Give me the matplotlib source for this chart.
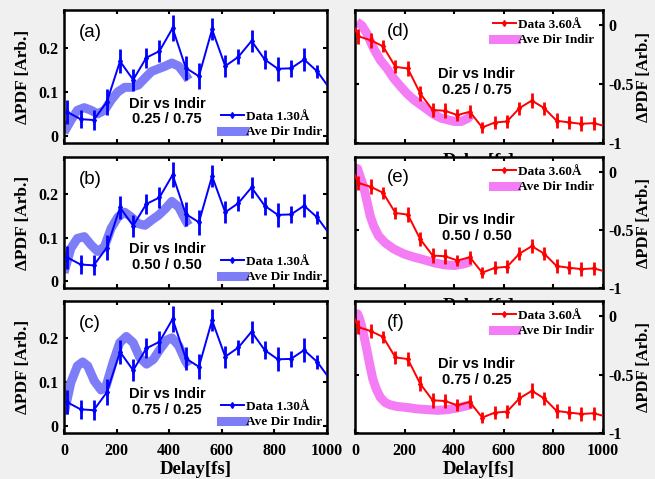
import matplotlib
matplotlib.use("Agg")
import matplotlib.pyplot as plt
from matplotlib.lines import Line2D
import numpy as np

# ---------------- data ----------------
delay = [13, 63, 113, 163, 213, 263, 313, 363, 413, 463, 513, 563, 613,
         663, 713, 763, 813, 863, 913, 963, 1013]
blue_data = [0.054, 0.038, 0.036, 0.077, 0.169, 0.127, 0.177, 0.192, 0.244,
             0.154, 0.135, 0.241, 0.158, 0.179, 0.215, 0.173, 0.152, 0.153,
             0.173, 0.146, 0.105]
blue_err = [0.027, 0.021, 0.023, 0.029, 0.027, 0.025, 0.023, 0.025, 0.029,
            0.027, 0.029, 0.025, 0.025, 0.017, 0.025, 0.021, 0.027, 0.019,
            0.027, 0.015, 0.02]

red_delay = [-37] + delay
red_data = [0.15, -0.093, -0.127, -0.178, -0.353, -0.367, -0.579, -0.72, -0.726,
            -0.763, -0.734, -0.868, -0.826, -0.817, -0.704, -0.639, -0.704,
            -0.811, -0.825, -0.837, -0.831, -0.86]
red_err = [0.05, 0.063, 0.063, 0.05, 0.056, 0.063, 0.063, 0.063, 0.063, 0.05,
           0.056, 0.05, 0.056, 0.056, 0.056, 0.063, 0.056, 0.063, 0.056,
           0.063, 0.056, 0.05]

# averaged direct/indirect model curves (left column: 1.30 A)
ave_a_t = [0, 26, 51, 77, 103, 128, 154, 179, 205, 231, 256, 282, 308, 333,
           359, 385, 410, 436, 462, 474]
ave_a = [0.008, 0.035, 0.058, 0.064, 0.058, 0.050, 0.058, 0.081, 0.100, 0.110,
         0.110, 0.115, 0.131, 0.146, 0.152, 0.158, 0.165, 0.158, 0.138, 0.127]
ave_b_t = [0, 26, 51, 77, 103, 128, 154, 179, 205, 231, 256, 282, 308, 333,
           359, 385, 410, 436, 462, 474]
ave_b = [0.019, 0.075, 0.098, 0.102, 0.083, 0.068, 0.079, 0.121, 0.147, 0.158,
         0.147, 0.132, 0.128, 0.140, 0.151, 0.166, 0.183, 0.170, 0.140, 0.128]
ave_c_t = [0, 26, 51, 71, 90, 115, 141, 160, 186, 212, 237, 263, 288, 314,
           340, 365, 391, 410, 436, 462, 474]
ave_c = [0.027, 0.099, 0.137, 0.146, 0.137, 0.103, 0.082, 0.091, 0.144, 0.190,
         0.204, 0.190, 0.156, 0.141, 0.152, 0.175, 0.196, 0.201, 0.183, 0.148,
         0.137]

# right column: 3.60 A
ave_d_t = [7, 27, 48, 75, 102, 129, 156, 184, 211, 238, 265, 293, 320, 347,
           374, 401, 429, 456, 469]
ave_d = [0.028, 0.0, -0.07, -0.197, -0.296, -0.366, -0.45, -0.52, -0.583,
         -0.634, -0.676, -0.718, -0.76, -0.789, -0.803, -0.817, -0.817,
         -0.789, -0.76]
ave_e_t = [0, 10, 20, 34, 48, 61, 75, 95, 122, 156, 197, 238, 279, 320, 361,
           401, 442, 469]
ave_e = [0.02, 0.03, -0.034, -0.12, -0.25, -0.377, -0.463, -0.55, -0.611,
         -0.663, -0.706, -0.734, -0.757, -0.783, -0.80, -0.806, -0.79, -0.771]
ave_f_t = [0, 10, 18, 31, 45, 58, 72, 86, 102, 122, 143, 170, 211, 252, 293,
           333, 374, 415, 456, 476]
ave_f = [0.0, 0.02, -0.02, -0.12, -0.26, -0.40, -0.54, -0.625, -0.695, -0.74,
         -0.76, -0.773, -0.782, -0.794, -0.80, -0.806, -0.80, -0.784, -0.764,
         -0.75]

panel_labels_left = ["(a)", "(b)", "(c)"]
panel_labels_right = ["(d)", "(e)", "(f)"]
ratios = ["0.25 / 0.75", "0.50 / 0.50", "0.75 / 0.25"]
x_ticks = [0, 200, 400, 600, 800, 1000]

# ---------------- style ----------------
W, H = 655, 479
fig = plt.figure(figsize=(W / 100, H / 100), dpi=100, facecolor="#f0f0f0")

serif = "Liberation Serif"
sans = "Liberation Sans"
BLUE = "#0000ff"
RED = "#ff0000"
BLUE_AVE = "#7d7df7"
PINK_AVE = "#f47cf4"


def px_axes(l, r, t, b):
    return fig.add_axes([l / W, 1 - b / H, (r - l) / W, (b - t) / H])


def style_axes(ax, right=False, bottom_labels=False):
    ax.set_facecolor("white")
    for s in ax.spines.values():
        s.set_linewidth(1.8)
    ax.tick_params(direction="in", length=3, width=1.5, top=True, right=True,
                   left=True, bottom=True)
    ax.tick_params(axis="x", pad=7)
    ax.tick_params(axis="y", pad=4)
    ax.set_xlim(0, 1000)
    ax.set_xticks(x_ticks)
    if bottom_labels:
        ax.set_xticklabels([str(v) for v in x_ticks], fontfamily=serif,
                           fontweight="bold", fontsize=11.5)
    else:
        ax.set_xticklabels([])
    if right:
        ax.yaxis.tick_right()
        ax.tick_params(axis="y", left=True, right=True, labelleft=False,
                       labelright=True)
        ax.yaxis.set_label_position("right")


rows = [(10, 143), (157, 288), (301, 433)]
left_aves = [(ave_a_t, ave_a), (ave_b_t, ave_b), (ave_c_t, ave_c)]
right_aves = [(ave_d_t, ave_d), (ave_e_t, ave_e), (ave_f_t, ave_f)]
leg_font = {"family": serif, "weight": "bold", "size": 9.5}

for i in range(3):
    t, b = rows[i]
    # ---- left column ----
    ax = px_axes(64, 327, t, b)
    style_axes(ax, right=False, bottom_labels=(i == 2))
    at, av = left_aves[i]
    ax.plot(at, av, color=BLUE_AVE, lw=6.5, solid_capstyle="butt", zorder=2)
    ax.errorbar(delay, blue_data, yerr=blue_err, color=BLUE, lw=1.4,
                elinewidth=2.0, capsize=0, marker="d", ms=3, zorder=3)
    ax.set_ylim(-0.016, 0.285)
    ax.set_yticks([0, 0.1, 0.2])
    ax.set_yticklabels(["0", "0.1", "0.2"], fontfamily=serif,
                       fontweight="bold", fontsize=11.5)
    ax.set_ylabel("ΔPDF [Arb.]", fontfamily=serif, fontweight="bold",
                  fontsize=12.5, labelpad=5)
    ax.text(0.055, 0.83, panel_labels_left[i], transform=ax.transAxes,
            fontfamily=sans, fontsize=13.5, va="center", ha="left")
    ax.text(392, 0.055, "Dir vs Indir\n" + ratios[i], fontfamily=sans,
            fontweight="bold", fontsize=10.5, ha="center", va="center",
            linespacing=1.15)
    handles = [Line2D([], [], color=BLUE, lw=1.4, marker="d", ms=3),
               Line2D([], [], color=BLUE_AVE, lw=6.5)]
    ax.legend(handles, ["Data 1.30Å", "Ave Dir Indir"], loc="lower right",
              frameon=False, prop=leg_font,
              handlelength=1.7, handletextpad=0.2, labelspacing=0.25,
              borderaxespad=0.15, borderpad=0.2)
    if i == 2:
        ax.set_xlabel("Delay[fs]", fontfamily=serif, fontweight="bold",
                      fontsize=13.5, labelpad=2)

    # ---- right column ----
    ax = px_axes(355, 603, t, b)
    style_axes(ax, right=True, bottom_labels=(i == 2))
    at, av = right_aves[i]
    ax.plot(at, av, color=PINK_AVE, lw=6.5, solid_capstyle="butt", zorder=2)
    ax.errorbar(red_delay, red_data, yerr=red_err, color=RED, lw=1.4,
                elinewidth=2.0, capsize=0, marker="d", ms=3, zorder=3)
    ax.set_ylim(-1, 0.13)
    ax.set_yticks([-1, -0.5, 0])
    ax.set_yticklabels(["-1", "-0.5", "0"], fontfamily=serif,
                       fontweight="bold", fontsize=11.5)
    ax.set_ylabel("ΔPDF [Arb.]", fontfamily=serif, fontweight="bold",
                  fontsize=12, labelpad=1.5)
    ax.text(0.13, 0.84, panel_labels_right[i], transform=ax.transAxes,
            fontfamily=sans, fontsize=13.5, va="center", ha="left")
    ax.text(490, -0.48, "Dir vs Indir\n" + ratios[i], fontfamily=sans,
            fontweight="bold", fontsize=10.5, ha="center", va="center",
            linespacing=1.15)
    handles = [Line2D([], [], color=RED, lw=1.4, marker="d", ms=3),
               Line2D([], [], color=PINK_AVE, lw=6.5)]
    ax.legend(handles, ["Data 3.60Å", "Ave Dir Indir"], loc="upper right",
              frameon=False, prop=leg_font,
              handlelength=1.7, handletextpad=0.2, labelspacing=0.25,
              borderaxespad=0.45, borderpad=0.2)
    ax.set_xlabel("Delay[fs]", fontfamily=serif, fontweight="bold",
                  fontsize=13.5, labelpad=2 if i == 2 else 0)

fig.savefig("out.png", dpi=100, facecolor=fig.get_facecolor())
